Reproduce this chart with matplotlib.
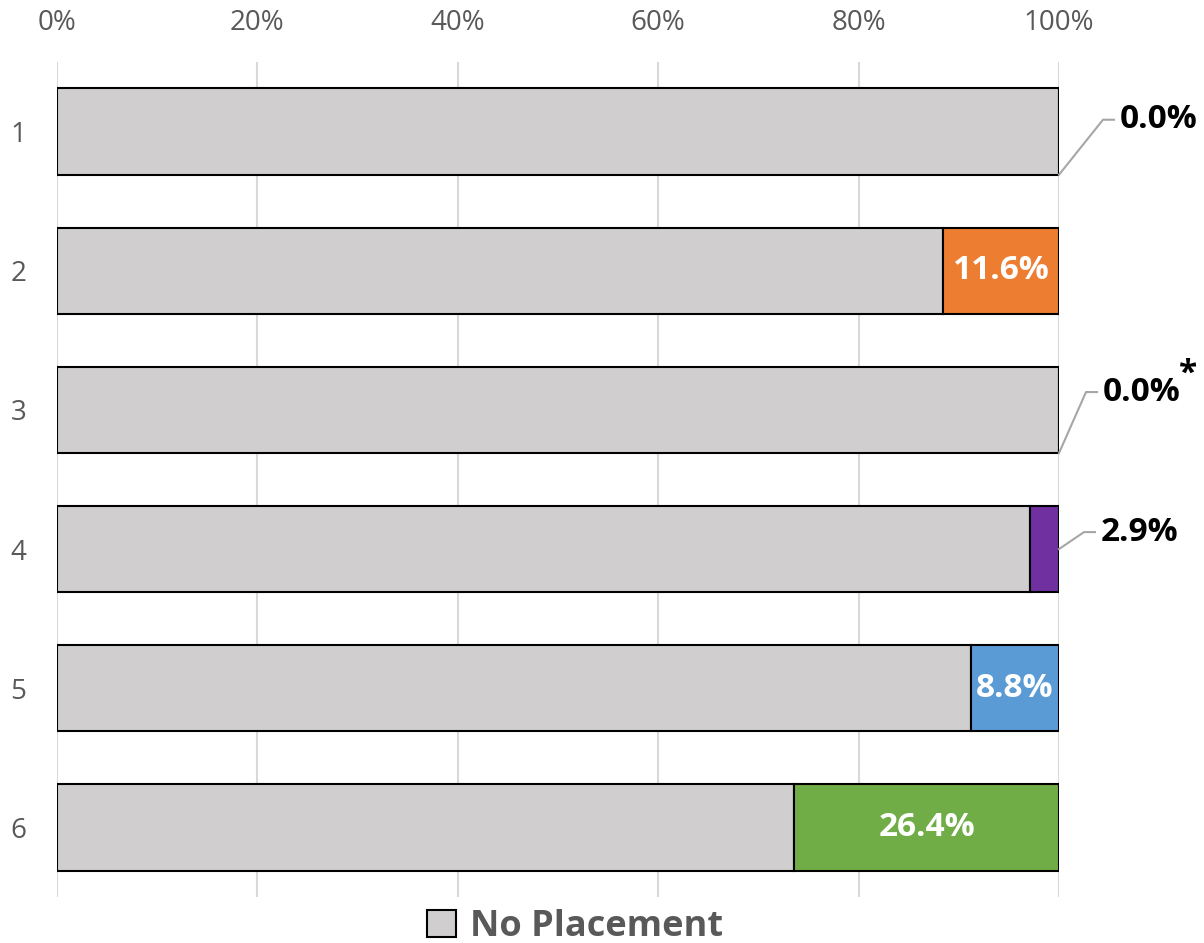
import matplotlib
matplotlib.use("Agg")
import matplotlib.pyplot as plt
from matplotlib.patches import Patch
from matplotlib.ticker import PercentFormatter

plt.rcParams["font.family"] = ["Open Sans", "DejaVu Sans"]

# stacked shares per group (percent)
groups = ["1", "2", "3", "4", "5", "6"]
placed = [0.0, 11.6, 0.0, 2.9, 8.8, 26.4]
no_placement = [100 - p for p in placed]
placed_colors = ["#ED7D31", "#ED7D31", "#A5A5A5", "#7030A0", "#5B9BD5", "#70AD47"]
label_suffix = ["", "", "*", "", "", ""]
# leader line elbow offsets (pixels) for labels placed outside the bar
leader_offsets = {0: (44, 55), 2: (27, 61), 3: (25, 17)}

GRAY = "#595959"
fig = plt.figure(figsize=(12.04, 9.43), dpi=100)
ax = fig.add_axes([57 / 1204, 1 - 897 / 943, 1002 / 1204, 835 / 943])

ypos = list(range(len(groups)))
h = 0.62
ax.barh(ypos, no_placement, height=h, color="#D0CECE", edgecolor="black",
        linewidth=1.5, zorder=3, label="No Placement")
ax.barh(ypos, placed, left=no_placement, height=h, color=placed_colors,
        edgecolor="black", linewidth=1.5, zorder=3)

ax.set_xlim(0, 100)
ax.set_ylim(len(groups) - 0.5, -0.5)
ax.set_xticks(range(0, 101, 20))
ax.xaxis.set_major_formatter(PercentFormatter(decimals=0))
ax.set_yticks(ypos)
ax.set_yticklabels(groups)
ax.xaxis.tick_top()
ax.tick_params(axis="both", length=0, labelsize=20, labelcolor=GRAY)
ax.tick_params(axis="x", pad=18)
ax.tick_params(axis="y", pad=22)
for s in ax.spines.values():
    s.set_visible(False)
ax.grid(axis="x", color="#D9D9D9", linewidth=1.5, zorder=0)

fig.canvas.draw()
for i, (v, left) in enumerate(zip(placed, no_placement)):
    text = f"{v:.1f}%"
    if v >= 5:
        ax.text(left + v / 2, i, text, ha="center", va="center", color="white",
                fontsize=24, fontweight="bold", zorder=4)
        continue
    # small segments get a leader line out to the right
    if v == 0:
        ax_px, ay_px = ax.transData.transform((100, i + h / 2))
    else:
        ax_px, ay_px = ax.transData.transform((100, i))
    dx, dy = leader_offsets[i]
    bx, by = ax_px + dx, ay_px + dy
    fig.add_artist(plt.Line2D([ax_px, bx, bx + 11], [ay_px, by, by],
                              transform=None, color="#A6A6A6", linewidth=1.5))
    t = fig.text((bx + 17) / 1204, by / 943, text, ha="left", va="center",
                 fontsize=24, fontweight="bold", color="black")
    if label_suffix[i]:
        bb = t.get_window_extent(fig.canvas.get_renderer())
        fig.text((bb.x1 - 2) / 1204, (by + 18) / 943, label_suffix[i], ha="left",
                 va="center", fontsize=24, fontweight="bold", color="black")

fig.legend(handles=[Patch(facecolor="#D0CECE", edgecolor="black", linewidth=1.5,
                          label="No Placement")],
           loc="center", bbox_to_anchor=(575 / 1204, 1 - 927 / 943), frameon=False,
           prop={"size": 26, "weight": "bold"}, labelcolor=GRAY,
           handlelength=0.8, handleheight=0.8, handletextpad=0.4)

fig.savefig("out.png", dpi=100)
